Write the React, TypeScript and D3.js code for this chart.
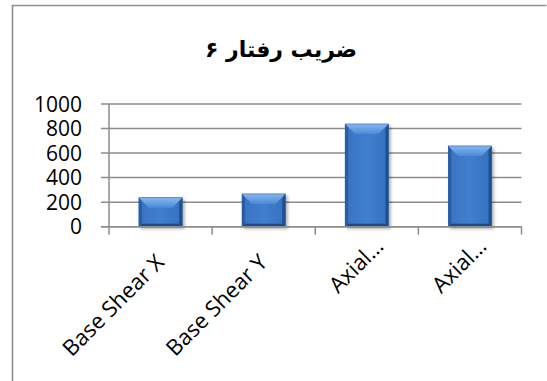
import React from "react";
import * as d3 from "d3";

const categories = ["Base Shear X", "Base Shear Y", "Axial…", "Axial…"];
const values = [236, 267, 837, 658];
const yTicks = [0, 200, 400, 600, 800, 1000];
const title = "ضریب رفتار ۶";

const W = 547;
const H = 381;
const M = { left: 109, right: 521.5, top: 104, bottom: 226.7 };

export default function App() {
  const x = d3
    .scaleBand<string>()
    .domain(categories.map((_, i) => String(i)))
    .range([M.left, M.right])
    .paddingInner(0.58)
    .paddingOuter(0.29);
  const xb = d3
    .scaleBand<string>()
    .domain(categories.map((_, i) => String(i)))
    .range([M.left, M.right]);
  const y = d3.scaleLinear().domain([0, 1000]).range([M.bottom, M.top]);
  const font = "'Open Sans', 'Liberation Sans', sans-serif";
  const grid = "#8c8c8c";

  return (
    <svg
      width={W}
      height={H}
      style={{ position: "absolute", left: 0, top: 0, background: "#fff" }}
    >
      <defs>
        <linearGradient id="face" x1="0" x2="1" y1="0" y2="0">
          <stop offset="0" stopColor="#3a72bf" />
          <stop offset="0.5" stopColor="#3f7fcf" />
          <stop offset="1" stopColor="#3670bd" />
        </linearGradient>
        <linearGradient id="topbev" x1="0" x2="0" y1="0" y2="1">
          <stop offset="0" stopColor="#86b8f0" />
          <stop offset="1" stopColor="#4b8ad6" />
        </linearGradient>
        <filter id="sh" x="-20%" y="-20%" width="150%" height="150%">
          <feDropShadow dx="2" dy="2" stdDeviation="1.5" floodColor="#000" floodOpacity="0.3" />
        </filter>
      </defs>
      <rect x={0} y={0} width={W} height={H} fill="#fff" />
      {/* chart border */}
      <path
        d={`M12.5,${H + 2} L12.5,5.5 L546.5,5.5`}
        fill="none"
        stroke="#8e8e8e"
        strokeWidth={1.6}
      />
      <text
        x={281}
        y={57}
        textAnchor="middle"
        fontFamily="'DejaVu Sans', sans-serif"
        fontWeight="bold"
        fontSize={22}
        fill="#000"
      >
        {title}
      </text>
      {/* gridlines */}
      {yTicks.map((t) => (
        <g key={t}>
          <line
            x1={M.left - 8}
            x2={M.right}
            y1={y(t)}
            y2={y(t)}
            stroke={grid}
            strokeWidth={1.5}
          />
          <text
            x={82}
            y={y(t)}
            dy="0.36em"
            textAnchor="end"
            fontFamily={font}
            fontSize={21}
            fill="#000"
          >
            {t}
          </text>
        </g>
      ))}
      {/* y axis */}
      <line x1={M.left} x2={M.left} y1={M.top} y2={M.bottom} stroke={grid} strokeWidth={1.5} />
      {/* x ticks */}
      {d3.range(categories.length + 1).map((i) => {
        const xx = M.left + i * xb.bandwidth();
        return (
          <line key={i} x1={xx} x2={xx} y1={M.bottom} y2={M.bottom + 8} stroke={grid} strokeWidth={1.5} />
        );
      })}
      {/* bars */}
      {values.map((v, i) => {
        const x0 = x(String(i))!;
        const w = x.bandwidth();
        const y0 = y(v);
        const y1 = y(0);
        const b = Math.min(10, (y1 - y0) / 2);
        const s = 3;
        return (
          <g key={i} filter="url(#sh)">
            <rect x={x0} y={y0} width={w} height={y1 - y0} fill="url(#face)" />
            <polygon
              points={`${x0},${y0} ${x0 + w},${y0} ${x0 + w - b},${y0 + b} ${x0 + b},${y0 + b}`}
              fill="url(#topbev)"
            />
            <polygon
              points={`${x0},${y0} ${x0 + s},${y0 + b * 0.4} ${x0 + s},${y1 - s} ${x0},${y1}`}
              fill="#285ea6"
            />
            <polygon
              points={`${x0 + w},${y0} ${x0 + w - s},${y0 + b * 0.4} ${x0 + w - s},${y1 - s} ${x0 + w},${y1}`}
              fill="#1f4f90"
            />
            <polygon
              points={`${x0},${y1} ${x0 + s},${y1 - s} ${x0 + w - s},${y1 - s} ${x0 + w},${y1}`}
              fill="#1d4a88"
            />
            <rect x={x0} y={y0} width={w} height={y1 - y0} fill="none" stroke="#2a5a9a" strokeWidth={0.6} />
          </g>
        );
      })}
      {/* x axis line */}
      <line x1={M.left - 8} x2={M.right} y1={M.bottom} y2={M.bottom} stroke={grid} strokeWidth={1.5} />
      {/* x labels */}
      {categories.map((c, i) => {
        const cx = xb(String(i))! + xb.bandwidth() / 2;
        const truncated = c.endsWith("…");
        const tx = truncated ? cx + 18 : cx + 5;
        const ty = truncated ? M.bottom + 21 : M.bottom + 37;
        return (
          <text
            key={i}
            transform={`translate(${tx},${ty}) rotate(-45)`}
            textAnchor="end"
            fontFamily={font}
            fontSize={22}
            fill="#000"
          >
            {c}
          </text>
        );
      })}
    </svg>
  );
}
